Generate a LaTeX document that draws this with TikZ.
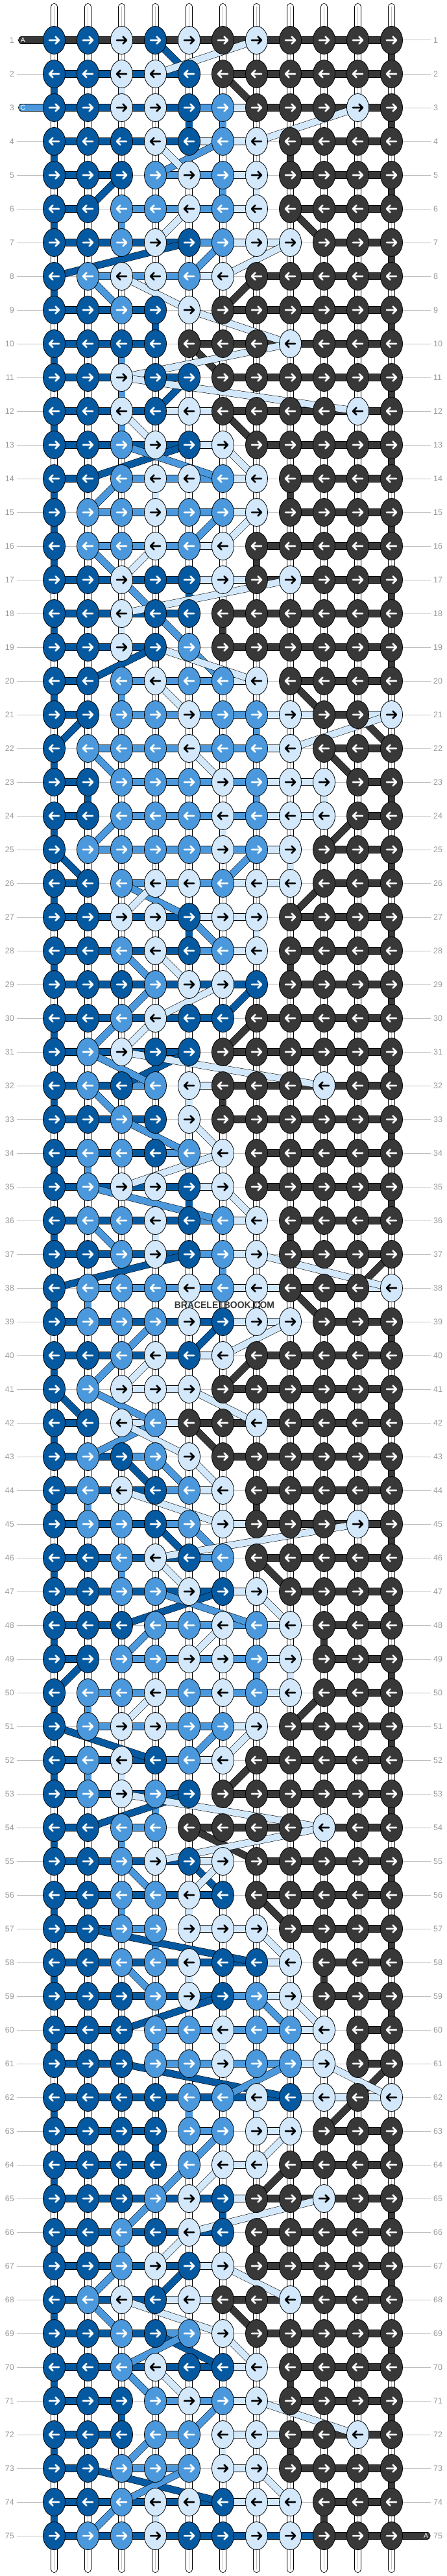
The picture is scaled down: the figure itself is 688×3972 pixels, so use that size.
\documentclass[tikz,border=0pt]{standalone}
\usepackage{fontspec}
\setmainfont{Liberation Sans}
\usetikzlibrary{shapes.geometric}
\definecolor{cD}{HTML}{0559A0}
\definecolor{cM}{HTML}{4B99DC}
\definecolor{cL}{HTML}{D3E9FB}
\definecolor{cG}{HTML}{383838}
\definecolor{rowgray}{HTML}{BEBEBE}
\definecolor{numgray}{HTML}{9A9A9A}
\pgfdeclarelayer{warp}
\pgfdeclarelayer{segs}
\pgfsetlayers{warp,segs,main}
\begin{document}
\begin{tikzpicture}[x=1pt,y=-1pt,
  knot/.style={ellipse,draw=black,line width=0.8pt,minimum width=34pt,minimum height=43pt,inner sep=0pt,fill=c#1},
  seg/.style={draw=black,line width=0.55pt,double=c#1,double distance=10pt},
  endtab/.style={draw=black,line width=0.55pt,double=c#1,double distance=10pt,line cap=round},
  arrw/.style={line width=2.6pt,line cap=round,line join=round},
  lbl/.style={text=numgray,inner sep=4pt,font=\fontsize{12.5}{14}\selectfont},
  rowline/.style={draw=rowgray,line width=1pt},
  tabtxt/.style={text=white,inner sep=0pt,font=\fontsize{10.5}{12}\selectfont},
]
\begin{pgfonlayer}{warp}
\fill[white] (0,0) rectangle (688,3972);
\end{pgfonlayer}
\useasboundingbox (0,0) rectangle (688,3972);

% ---------- knots ----------
\foreach \r/\ks in {
1/{D,D,L,D,L,G,L,G,G,G,G},
2/{D,D,L,L,D,G,G,G,G,G,G},
3/{D,D,L,L,D,M,G,G,G,L,G},
4/{D,D,D,L,D,M,L,G,G,G,G},
5/{D,D,D,M,L,M,L,G,G,G,G},
6/{D,D,M,M,L,M,L,G,G,G,G},
7/{D,D,M,L,D,M,L,L,G,G,G},
8/{D,M,L,L,M,L,G,G,G,G,G},
9/{D,D,M,D,L,G,G,G,G,G,G},
10/{D,D,D,D,G,G,G,L,G,G,G},
11/{D,D,L,D,D,G,G,G,G,G,G},
12/{D,D,L,D,L,G,G,G,G,L,G},
13/{D,D,M,L,D,L,G,G,G,G,G},
14/{D,D,M,L,L,M,L,G,G,G,G},
15/{D,M,M,L,M,M,L,G,G,G,G},
16/{D,M,M,L,M,L,G,G,G,G,G},
17/{D,D,L,D,D,L,G,L,G,G,G},
18/{D,D,L,D,D,G,G,G,G,G,G},
19/{D,D,L,D,M,G,G,G,G,G,G},
20/{D,D,M,L,M,M,L,G,G,G,G},
21/{D,D,M,M,L,M,M,L,G,G,L},
22/{D,M,M,M,L,M,M,L,G,G,G},
23/{D,D,M,M,M,L,M,L,L,G,G},
24/{D,D,M,M,M,L,M,L,L,G,G},
25/{D,M,M,M,M,L,M,L,G,G,G},
26/{D,D,M,L,L,M,L,L,G,G,G},
27/{D,D,L,L,D,L,L,G,G,G,G},
28/{D,D,M,L,D,M,L,G,G,G,G},
29/{D,D,D,M,L,L,D,G,G,G,G},
30/{D,D,M,L,D,D,G,G,G,G,G},
31/{D,M,L,D,D,G,G,G,G,G,G},
32/{D,M,D,M,L,G,G,G,L,G,G},
33/{D,D,M,D,L,G,G,G,G,G,G},
34/{D,M,M,D,M,L,G,G,G,G,G},
35/{D,M,L,L,D,L,G,G,G,G,G},
36/{D,M,M,L,D,M,L,G,G,G,G},
37/{D,D,M,L,D,M,L,G,G,G,G},
38/{D,M,M,M,L,M,L,G,G,G,L},
39/{D,M,M,M,L,D,L,L,G,G,G},
40/{D,D,M,L,D,L,G,G,G,G,G},
41/{D,M,L,L,L,G,G,G,G,G,G},
42/{D,D,L,M,G,G,L,G,G,G,G},
43/{D,M,D,M,L,G,G,G,G,G,G},
44/{D,M,L,D,M,L,G,G,G,G,G},
45/{D,M,M,D,M,L,G,G,G,L,G},
46/{D,D,M,L,D,M,G,G,G,G,G},
47/{D,D,M,M,L,D,L,G,G,G,G},
48/{D,D,D,M,M,L,M,L,G,G,G},
49/{D,D,M,M,L,L,M,L,G,G,G},
50/{D,M,M,L,M,L,M,L,G,G,G},
51/{D,M,L,L,M,M,L,G,G,G,G},
52/{D,M,L,D,M,L,G,G,G,G,G},
53/{D,M,L,M,D,G,G,G,G,G,G},
54/{D,D,M,M,G,G,G,G,L,G,G},
55/{D,D,M,L,D,L,G,G,G,G,G},
56/{D,D,M,M,L,D,G,G,G,G,G},
57/{D,D,M,M,L,L,L,G,G,G,G},
58/{D,D,M,M,L,D,D,L,G,G,G},
59/{D,D,D,M,L,D,M,L,G,G,G},
60/{D,D,D,M,M,L,M,M,L,G,G},
61/{D,D,D,M,M,L,M,M,L,G,G},
62/{D,D,D,D,M,M,L,D,L,G,L},
63/{D,D,D,D,M,M,L,L,G,G,G},
64/{D,D,D,D,M,L,L,G,G,G,G},
65/{D,D,D,M,L,D,G,G,L,G,G},
66/{D,D,M,D,L,D,G,G,G,G,G},
67/{D,D,M,L,D,L,G,G,G,G,G},
68/{D,M,L,D,L,G,G,L,G,G,G},
69/{D,D,M,D,M,L,G,G,G,G,G},
70/{D,D,M,L,D,D,L,G,G,G,G},
71/{D,D,D,M,L,M,L,G,G,G,G},
72/{D,D,D,M,M,L,L,G,G,L,G},
73/{D,D,M,M,M,L,L,G,G,G,G},
74/{D,D,M,L,L,D,L,L,G,G,G},
75/{D,M,M,L,D,D,L,L,G,G,G}}{
  \pgfmathsetmacro\Y{62+52*(\r-1)}
  \ifodd\r \def\dr{1}\else\def\dr{-1}\fi
  \node[lbl,anchor=east] (ll-\r) at (26,\Y) {\r};
  \node[lbl,anchor=west] (lr-\r) at (664,\Y) {\r};
  \foreach \k [count=\c] in \ks {
    \pgfmathsetmacro\X{83.5+52*(\c-1)}
    \node[knot=\k] (k-\r-\c) at (\X,\Y) {};
    \if\k L\def\ac{black}\else\def\ac{white}\fi
    \draw[arrw,draw=\ac,shift={(\X,\Y)},xscale=\dr] (-7.5,0) -- (7.5,0) (2,-5.5) -- (7.5,0) -- (2,5.5);
  }
}

% ---------- warp strings and row lines ----------
\begin{pgfonlayer}{warp}
\foreach \c in {1,...,11}{
  \pgfmathsetmacro\X{83.5+52*(\c-1)}
  \coordinate (wt-\c) at (\X,10.5);
  \coordinate (wb-\c) at (\X,3961.5);
  \draw[line width=11pt,line cap=round,black] (wt-\c) -- (wb-\c);
  \draw[line width=9.4pt,line cap=round,white] (wt-\c) -- (wb-\c);
  \draw[line width=0.7pt,draw=rowgray] (wt-\c) -- (wb-\c);
}
\foreach \r in {1,...,75}{\draw[rowline] (ll-\r) -- (lr-\r);}
\end{pgfonlayer}

% ---------- string segments ----------
\begin{pgfonlayer}{segs}
% vertical runs at the edges
\foreach \r in {2,4,...,74}{\pgfmathtruncatemacro\rn{\r+1}\draw[seg=D] (k-\r-1.center) -- (k-\rn-1.center);}
\foreach \r in {1,3,...,73}{\ifnum\r=21 \else\ifnum\r=37 \else\ifnum\r=61 \else
  \pgfmathtruncatemacro\rn{\r+1}\draw[seg=G] (k-\r-11.center) -- (k-\rn-11.center);\fi\fi\fi}
% inner vertical runs
\foreach \r/\c/\cl in {15/1/D,3/5/D,9/4/D,17/5/D,23/2/D,27/5/D,33/4/D,35/5/D,63/4/D,65/6/D,71/3/D,
 4/8/G,14/8/G,16/7/G,18/6/G,28/8/G,32/6/G,34/7/G,36/8/G,44/7/G,48/9/G,58/9/G,60/10/G,66/7/G,70/8/G,72/8/G,74/9/G,
 3/6/M,5/6/M,6/3/M,10/3/M,11/3/M,12/3/M,20/3/M,21/7/M,23/7/M,34/2/M,37/6/M,38/2/M,44/2/M,46/3/M,49/7/M,
 50/2/M,52/2/M,53/4/M,54/3/M,56/3/M,57/4/M,60/4/M,62/5/M,66/3/M,
 2/3/L,5/7/L,14/4/L,18/3/L,23/9/L,24/6/L,25/8/L,27/7/L,32/5/L,36/4/L,38/5/L,49/8/L,52/3/L,56/5/L,58/5/L,60/6/L,
 62/7/L,72/6/L,74/4/L}{
  \pgfmathtruncatemacro\rn{\r+1}\draw[seg=\cl] (k-\r-\c.center) -- (k-\rn-\c.center);}
% horizontal runs
\foreach \r/\ss in {
1/{G,G,G,G,G,G,G,G,G,G},
2/{D,D,D,D,-,G,G,G,G,G},
3/{D,D,D,D,M,L,G,G,G,G},
4/{D,D,D,D,L,L,-,G,G,G},
5/{D,D,-,M,M,L,-,G,G,G},
6/{D,-,M,M,M,L,-,G,G,G},
7/{D,D,D,D,M,L,L,-,G,G},
8/{-,M,M,M,L,-,G,G,G,G},
9/{D,D,D,-,-,G,G,G,G,G},
10/{D,D,D,-,G,G,G,G,G,G},
11/{D,D,D,D,-,G,G,G,G,G},
12/{D,D,D,L,L,G,G,G,G,G},
13/{D,D,D,D,L,-,G,G,G,G},
14/{D,-,M,M,M,L,-,G,G,G},
15/{-,M,M,M,M,L,-,G,G,G},
16/{-,M,M,M,L,-,G,G,G,G},
17/{D,D,D,D,L,L,G,G,G,G},
18/{D,D,D,D,-,G,G,G,G,G},
19/{D,D,D,-,-,G,G,G,G,G},
20/{D,-,M,M,M,L,-,G,G,G},
21/{D,-,M,M,M,M,L,L,G,L},
22/{-,M,M,M,M,M,L,-,G,G},
23/{D,-,M,M,M,M,L,L,-,G},
24/{D,-,M,M,M,M,L,L,-,G},
25/{-,M,M,M,M,M,L,-,G,G},
26/{D,-,M,M,M,L,L,-,G,G},
27/{D,D,D,D,L,L,-,G,G,G},
28/{D,D,D,D,M,L,-,G,G,G},
29/{D,D,D,D,D,D,-,G,G,G},
30/{D,D,D,D,D,-,G,G,G,G},
31/{D,D,D,D,-,G,G,G,G,G},
32/{D,D,M,-,L,G,G,G,G,G},
33/{D,D,D,-,-,G,G,G,G,G},
34/{D,D,D,M,-,-,G,G,G,G},
35/{D,D,D,D,L,-,G,G,G,G},
36/{D,D,D,D,M,L,-,G,G,G},
37/{D,D,D,D,M,L,-,G,G,G},
38/{-,M,M,M,M,L,L,G,G,L},
39/{D,D,D,D,D,L,L,-,G,G},
40/{D,D,D,D,L,-,G,G,G,G},
41/{-,-,L,L,-,G,G,G,G,G},
42/{D,-,L,L,G,G,G,G,G,G},
43/{D,D,M,-,-,G,G,G,G,G},
44/{D,D,D,M,L,-,G,G,G,G},
45/{D,D,D,M,-,L,G,G,G,G},
46/{D,D,D,D,M,-,G,G,G,G},
47/{D,D,D,D,D,L,-,G,G,G},
48/{D,D,-,M,M,M,L,-,G,G},
49/{D,-,M,M,M,M,L,-,G,G},
50/{-,M,M,M,M,M,L,-,G,G},
51/{-,M,M,M,M,L,-,G,G,G},
52/{D,D,D,M,L,-,G,G,G,G},
53/{D,D,D,D,-,G,G,G,G,G},
54/{D,-,M,-,G,G,G,G,G,G},
55/{D,D,D,D,L,-,G,G,G,G},
56/{D,D,D,D,D,-,G,G,G,G},
57/{D,D,M,-,L,L,-,G,G,G},
58/{D,D,D,D,D,D,L,-,G,G},
59/{D,D,D,D,D,M,L,-,G,G},
60/{D,D,-,M,M,M,M,L,-,G},
61/{D,D,-,M,M,M,M,L,-,G},
62/{D,D,D,D,D,D,D,L,L,L},
63/{D,D,D,-,M,-,L,-,G,G},
64/{D,D,D,-,-,L,-,G,G,G},
65/{D,D,D,D,D,L,G,G,G,G},
66/{D,D,D,D,D,-,G,G,G,G},
67/{D,D,D,D,L,-,G,G,G,G},
68/{D,D,D,L,L,G,G,G,G,G},
69/{D,D,D,M,-,-,G,G,G,G},
70/{D,D,D,D,D,L,-,G,G,G},
71/{D,D,-,M,M,L,-,G,G,G},
72/{D,D,-,M,-,L,L,G,G,G},
73/{D,-,M,M,-,L,-,G,G,G},
74/{D,D,D,D,D,L,L,-,G,G},
75/{D,D,D,D,D,D,D,D,G,G}}{
  \foreach \sg [count=\c] in \ss {\if\sg-\else
    \pgfmathtruncatemacro\cn{\c+1}\draw[seg=\sg] (k-\r-\c.center) -- (k-\r-\cn.center);\fi}
}
% diagonal passes
\foreach \cl/\ra/\ca/\rb/\cb in {
D/1/4/2/5,D/5/3/6/2,D/7/5/8/1,D/11/5/12/4,D/13/5/14/2,D/19/4/20/2,D/21/2/22/1,D/25/1/26/2,D/29/7/30/6,
D/31/5/32/3,D/37/5/38/1,D/39/6/40/5,D/41/1/42/2,D/43/3/44/4,D/45/4/46/5,D/47/6/48/3,D/49/2/50/1,D/51/1/52/4,
D/53/5/54/2,D/55/5/56/6,D/57/2/58/7,D/59/6/60/3,D/61/3/62/8,D/67/5/68/4,D/69/4/70/6,D/73/2/74/6,
G/2/6/3/7,G/6/8/7/9,G/8/7/9/6,G/10/5/11/6,G/12/6/13/7,G/20/8/21/9,G/21/10/22/11,G/22/9/23/10,G/24/10/25/9,
G/26/9/27/8,G/30/7/31/6,G/37/11/38/10,G/38/8/39/9,G/40/7/41/6,G/42/5/43/6,G/46/7/47/8,G/50/9/51/8,G/52/7/53/6,
G/54/5/55/7,G/56/7/57/8,G/61/11/62/10,G/62/10/63/9,G/64/8/65/7,G/68/6/69/7,
M/4/6/5/4,M/7/6/8/5,M/8/2/9/3,M/13/3/14/6,M/14/3/15/2,M/15/6/16/5,M/16/2/17/3,M/17/3/18/4,M/18/4/19/5,
M/19/5/20/6,M/22/2/23/3,M/24/3/25/2,M/25/7/26/6,M/26/3/27/5,M/27/5/28/6,M/28/3/29/4,M/29/4/30/3,M/30/3/31/2,
M/31/2/32/4,M/32/2/33/3,M/33/3/34/5,M/35/2/36/6,M/36/2/37/3,M/39/4/40/3,M/40/3/41/2,M/41/2/42/4,M/42/4/43/2,
M/43/4/44/5,M/45/5/46/6,M/47/4/48/7,M/48/4/49/3,M/51/6/52/5,M/55/3/56/4,M/58/3/59/4,M/59/7/60/8,M/61/8/62/6,
M/63/6/64/5,M/64/5/65/4,M/65/4/66/3,M/67/3/68/2,M/68/2/69/3,M/69/5/70/3,M/70/3/71/4,M/71/6/72/5,M/72/4/73/3,
M/73/5/74/3,M/74/3/75/2,
L/1/7/2/4,L/3/10/4/7,L/4/4/5/5,L/6/5/7/4,L/7/8/8/6,L/8/3/9/5,L/9/5/10/8,L/10/8/11/3,L/11/3/12/10,L/12/3/13/4,
L/13/6/14/7,L/15/7/16/6,L/16/4/17/3,L/17/8/18/3,L/19/4/20/7,L/20/4/21/5,L/21/11/22/8,L/22/5/23/6,L/26/4/27/3,
L/28/4/29/5,L/29/6/30/4,L/30/4/31/3,L/31/3/32/9,L/33/5/34/6,L/34/6/35/3,L/35/6/36/7,L/37/7/38/11,L/39/8/40/6,
L/40/4/41/3,L/41/5/42/7,L/42/3/43/5,L/43/5/44/6,L/44/3/45/6,L/45/10/46/4,L/46/4/47/5,L/47/7/48/8,L/48/6/49/5,
L/50/4/51/3,L/51/7/52/6,L/53/3/54/9,L/54/9/55/4,L/55/6/56/5,L/57/7/58/8,L/59/8/60/9,L/61/9/62/11,L/63/8/64/7,
L/64/6/65/5,L/65/9/66/5,L/66/5/67/4,L/67/6/68/8,L/68/3/69/6,L/69/6/70/7,L/70/4/71/5,L/71/7/72/10,L/73/7/74/8}{
  \draw[seg=\cl] (k-\ra-\ca.center) -- (k-\rb-\cb.center);}
% string ends with letters
\coordinate (tA) at (33.5,62);
\coordinate (tC) at (33.5,166);
\coordinate (tZ) at (658,3910);
\draw[endtab=G] (tA) -- (k-1-1.center);
\draw[endtab=M] (tC) -- (k-3-1.center);
\draw[endtab=G] (k-75-11.center) -- (tZ);
\end{pgfonlayer}
\node[tabtxt] (tAl) at (35.5,62) {A};
\node[tabtxt] (tCl) at (35.5,166) {C};
\node[tabtxt] (tZl) at (656.5,3910) {A};

\node[font=\bfseries\fontsize{15}{16}\selectfont,text=cG,xscale=0.93,inner sep=0pt] (wm) at (346,2012) {BRACELETBOOK.COM};
\end{tikzpicture}
\end{document}
